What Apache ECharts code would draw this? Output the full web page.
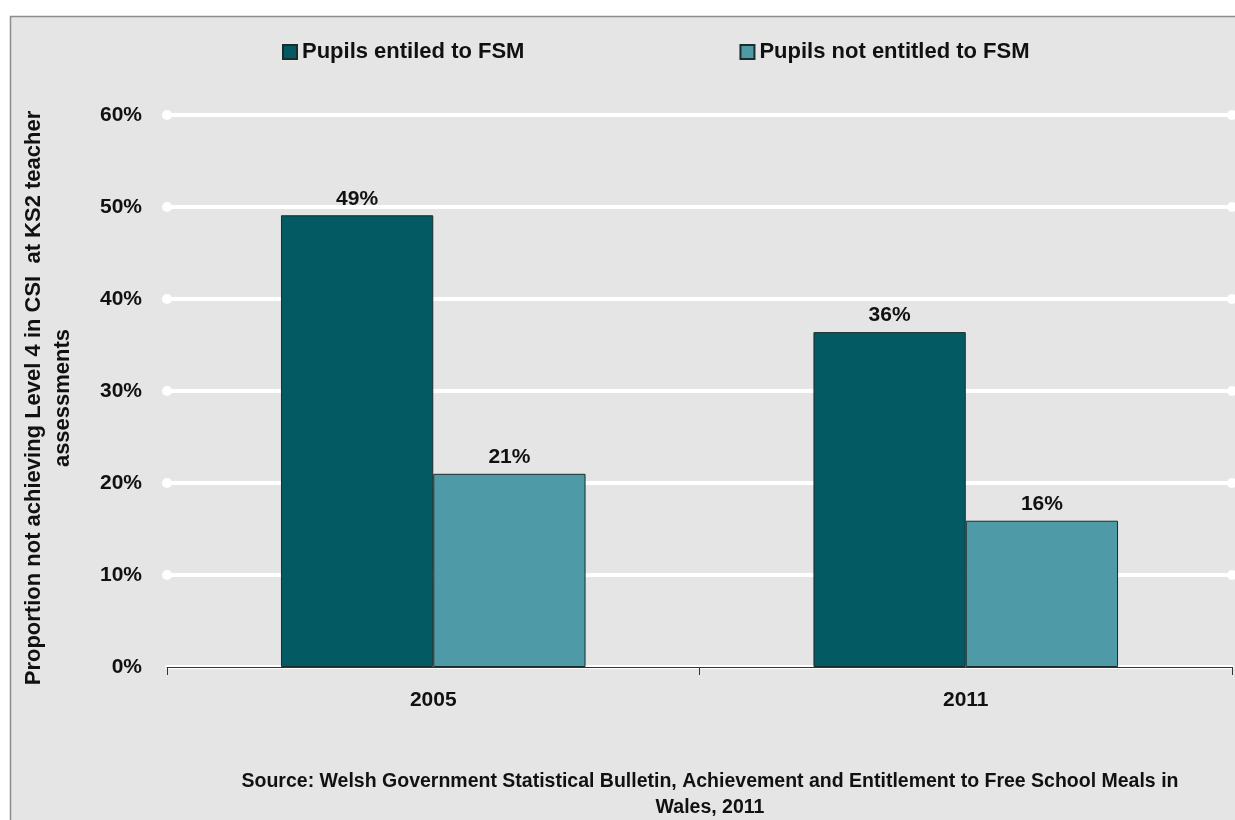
<!DOCTYPE html>
<html><head><meta charset="utf-8">
<script src="https://cdn.jsdelivr.net/npm/echarts@6/dist/echarts.min.js"></script>
<style>html,body{margin:0;padding:0;background:#fff}#c{width:1235px;height:820px}</style>
</head><body><div id="c"></div>
<script>
const categories = ['2005', '2011'];
const seriesNames = ['Pupils entiled to FSM', 'Pupils not entitled to FSM'];
const fsm = [49.1, 36.4];
const nonFsm = [21.0, 15.9];
const yTicks = [0, 10, 20, 30, 40, 50, 60];
const sourceText = 'Source: Welsh Government Statistical Bulletin, Achievement and Entitlement to Free School Meals in\nWales, 2011';
const yTitle = 'Proportion not achieving Level 4 in CSI  at KS2 teacher\nassessments';
const FONT = '"Liberation Sans Narrow","Arial Narrow","Liberation Sans",sans-serif';

// white end-dots of the gridlines, placed through a hidden 0..1 value axis
const dotData = [];
yTicks.filter(v => v > 0).forEach(v => { dotData.push([0, v]); dotData.push([1, v]); });

const chart = echarts.init(document.getElementById('c'));
const lbl = {show: true, position: 'top', distance: 6, color: '#111', fontFamily: FONT, fontWeight: 'bold', fontSize: 21,
  formatter: p => Math.round(p.value) + '%'};
chart.setOption({
  animation: false,
  backgroundColor: '#fff',
  graphic: [
    {type: 'rect', z: -10, shape: {x: 10.5, y: 16.5, width: 1240, height: 820}, style: {fill: '#e5e5e5', stroke: '#8c8c8c', lineWidth: 1.5}},
    {type: 'text', x: 710, y: 769, z: 5,
      style: {text: sourceText, textAlign: 'center', font: 'bold 19.5px ' + FONT, fill: '#111', lineHeight: 26}}
  ],
  legend: {
    top: 36, left: 277, itemGap: 215, itemWidth: 14, itemHeight: 14, icon: 'rect',
    textStyle: {fontFamily: FONT, fontWeight: 'bold', fontSize: 22, color: '#111'},
    data: seriesNames
  },
  grid: {left: 167, right: 3, top: 115, bottom: 153},
  xAxis: [{
    type: 'category', data: categories,
    axisLine: {lineStyle: {color: '#333', width: 1}},
    axisTick: {show: true, length: 8, lineStyle: {color: '#333'}},
    axisLabel: {color: '#111', fontFamily: FONT, fontWeight: 'bold', fontSize: 21, margin: 23}
  }, {
    type: 'value', min: 0, max: 1, show: false
  }],
  yAxis: {
    type: 'value', min: 0, max: 60, interval: 10,
    name: yTitle,
    nameLocation: 'middle', nameGap: 90, nameRotate: 90,
    nameTextStyle: {color: '#111', fontFamily: FONT, fontWeight: 'bold', fontSize: 22, lineHeight: 29, align: 'center', padding: [0, 14, 0, 0]},
    axisLine: {show: false}, axisTick: {show: false},
    axisLabel: {color: '#111', fontFamily: FONT, fontWeight: 'bold', fontSize: 21, margin: 25,
      formatter: v => yTicks.includes(v) ? v + '%' : ''},
    splitLine: {show: true, lineStyle: {color: '#fff', width: 4, cap: 'round'}}
  },
  series: [
    {name: seriesNames[0], type: 'bar', data: fsm, barGap: '0%', barCategoryGap: '42.8%',
      itemStyle: {color: '#045A63', borderColor: '#1c2b2c', borderWidth: 1}, label: lbl, z: 3},
    {name: seriesNames[1], type: 'bar', data: nonFsm, barGap: '0%', barCategoryGap: '42.8%',
      itemStyle: {color: '#4E9BA7', borderColor: '#1c2b2c', borderWidth: 1}, label: lbl, z: 3},
    {name: 'dots', type: 'scatter', xAxisIndex: 1, data: dotData, symbol: 'circle', symbolSize: 10,
      itemStyle: {color: '#ffffff', opacity: 1}, emphasis: {disabled: true}, silent: true, z: 4}
  ]
});
</script></body></html>
